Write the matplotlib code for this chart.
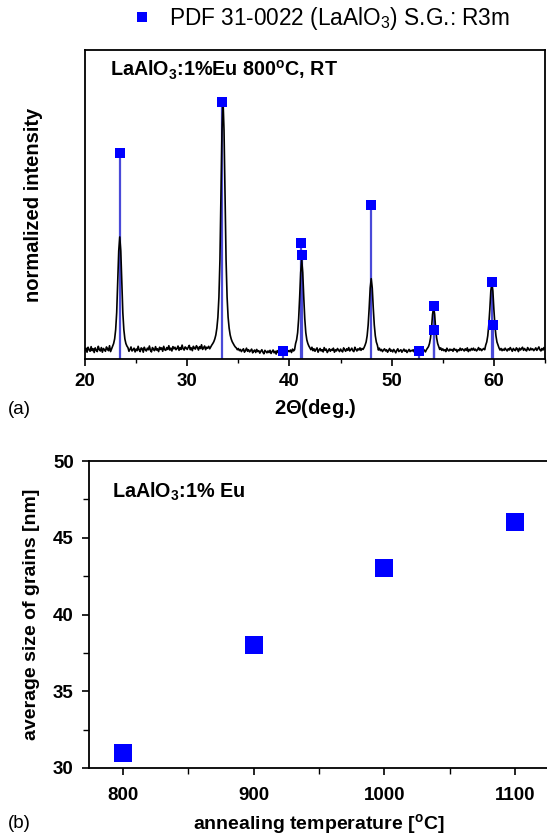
import numpy as np
import matplotlib
matplotlib.use("Agg")
import matplotlib.pyplot as plt
from matplotlib.ticker import MultipleLocator

plt.rcParams['font.family'] = ['Liberation Sans', 'DejaVu Sans']
plt.rcParams['mathtext.fontset'] = 'custom'
plt.rcParams['mathtext.rm'] = 'Liberation Sans'
plt.rcParams['mathtext.bf'] = 'Liberation Sans:bold'

# ---------------- data: panel (a) XRD ----------------
two_theta_start = 20.0
two_theta_step = 0.1
# measured trace (normalized intensity, 0..1000 of axis height), 0.1 deg steps from 20.0 to 65.0
xrd_intensity = [
    28, 35, 22, 38, 30, 25, 40, 27, 33, 21,       # 20
    36, 29, 24, 41, 31, 26, 37, 22, 34, 30,       # 21
    25, 39, 32, 27, 43, 24, 33, 42, 50, 65,       # 22
    95, 150, 250, 350, 395, 350, 250, 150, 95, 65,# 23
    50, 42, 37, 25, 31, 39, 26, 30, 35, 23,       # 24
    32, 27, 41, 29, 24, 36, 33, 22, 38, 30,       # 25
    26, 35, 30, 42, 28, 23, 37, 31, 27, 40,       # 26
    29, 33, 24, 38, 31, 36, 25, 41, 30, 28,       # 27
    37, 31, 43, 29, 35, 26, 40, 33, 38, 30,       # 28
    34, 42, 28, 37, 31, 45, 33, 29, 39, 36,       # 29
    31, 38, 44, 30, 36, 27, 41, 35, 32, 43,       # 30
    37, 29, 40, 34, 46, 31, 36, 42, 30, 38,       # 31
    35, 41, 33, 39, 45, 50, 56, 65, 78, 100,      # 32
    135, 200, 320, 520, 740, 840, 740, 520, 320, 200,  # 33 (peak 33.5)
    135, 100, 78, 65, 56, 50, 44, 39, 36, 30,     # 34
    34, 27, 31, 24, 29, 33, 22, 28, 35, 25,       # 35
    30, 23, 27, 32, 20, 26, 29, 21, 31, 24,       # 36
    27, 19, 25, 30, 22, 17, 28, 24, 20, 26,       # 37
    21, 28, 18, 24, 29, 20, 25, 16, 27, 22,       # 38
    19, 26, 23, 17, 28, 21, 25, 30, 22, 27,       # 39
    24, 29, 21, 32, 26, 30, 50, 62, 85, 130,      # 40
    200, 280, 320, 280, 200, 130, 85, 62, 50, 42, # 41
    36, 30, 38, 27, 33, 25, 31, 36, 22, 29,       # 42
    34, 26, 30, 23, 37, 28, 32, 21, 27, 33,       # 43
    25, 31, 28, 35, 22, 30, 26, 34, 29, 24,       # 44
    32, 27, 23, 36, 30, 25, 33, 28, 37, 26,       # 45
    30, 35, 27, 24, 38, 31, 26, 33, 29, 36,       # 46
    28, 34, 31, 37, 45, 55, 75, 110, 165, 230,    # 47
    260, 230, 165, 110, 75, 55, 45, 29, 35, 27,   # 48
    31, 24, 29, 33, 26, 30, 22, 28, 34, 25,       # 49
    29, 23, 31, 26, 20, 28, 33, 24, 27, 30,       # 50
    22, 27, 32, 25, 29, 21, 26, 31, 24, 28,       # 51
    26, 30, 23, 28, 19, 27, 24, 31, 22, 29,       # 52
    25, 32, 28, 23, 30, 35, 40, 50, 68, 100,      # 53
    145, 165, 145, 100, 68, 50, 40, 31, 36, 28,   # 54
    33, 27, 30, 24, 35, 29, 26, 32, 28, 31,       # 55
    25, 34, 29, 31, 23, 30, 27, 35, 28, 33,       # 56
    30, 26, 33, 28, 36, 24, 31, 27, 34, 29,       # 57
    35, 28, 32, 26, 30, 37, 29, 33, 27, 31,       # 58
    34, 30, 45, 55, 75, 110, 160, 220, 245, 220,  # 59
    160, 110, 75, 55, 45, 36, 29, 34, 27, 32,     # 60
    28, 35, 30, 26, 33, 29, 37, 31, 25, 34,       # 61
    30, 27, 36, 32, 24, 35, 29, 33, 38, 28,       # 62
    34, 29, 26, 37, 31, 28, 35, 30, 33, 27,       # 63
    31, 36, 28, 33, 39, 30, 26, 34, 29, 37,       # 64
    32,                                           # 65.0
]

# PDF 31-0022 reference lines
pdf_positions = [23.45, 33.45, 39.4, 41.15, 41.25, 47.95, 52.7, 54.1, 54.15, 59.85, 59.95]
pdf_heights = [667, 832, 26, 375, 337, 500, 26, 170, 94, 250, 110]

# ---------------- data: panel (b) grain size ----------------
anneal_temp = [800, 900, 1000, 1100]
grain_size = [31, 38, 43, 46]

x_ticks_a = [20, 30, 40, 50, 60]
x_ticks_b = [800, 900, 1000, 1100]
y_ticks_b = [30, 35, 40, 45, 50]

W, H = 547, 840
fig = plt.figure(figsize=(W / 100, H / 100), dpi=100)

# ---------------- panel (a) ----------------
axa = fig.add_axes([85 / W, (H - 359) / H, (545 - 85) / W, (359 - 50) / H])
tt = two_theta_start + two_theta_step * np.arange(len(xrd_intensity))
blue_line = '#4a4ad8'
axa.vlines(pdf_positions, 0, pdf_heights, colors=blue_line, linewidth=1.6, zorder=2)
axa.plot(tt, xrd_intensity, color='black', linewidth=1.2, zorder=3)
axa.plot(pdf_positions, pdf_heights, linestyle='none', marker='s', markersize=6.5,
         color='#0000ff', markeredgewidth=0, zorder=4,
         label=r'PDF 31-0022 (LaAlO$_3$) S.G.: R3m')
axa.set_xlim(20, 65)
axa.set_ylim(0, 1000)
axa.set_xticks(x_ticks_a)
axa.xaxis.set_minor_locator(MultipleLocator(5))
axa.set_yticks([])
axa.tick_params(axis='x', which='major', direction='out', length=5, width=1.2, labelsize=13.5, pad=5)
axa.tick_params(axis='x', which='minor', direction='out', length=3, width=1.0)
for lab in axa.get_xticklabels():
    lab.set_fontweight('bold')
for s in axa.spines.values():
    s.set_linewidth(1.3)
axa.set_xlabel(r'2$\mathbf{\Theta}$(deg.)', fontsize=14.5, fontweight='bold', labelpad=5)
axa.set_ylabel('normalized intensity', fontsize=14.5, fontweight='bold', labelpad=30)
axa.text(0.055, 0.935, r'LaAlO$_\mathbf{3}$:1%Eu 800$^\mathbf{o}$C, RT', transform=axa.transAxes,
         fontsize=14.2, fontweight='bold', va='center', ha='left')
fig.legend(loc='center', bbox_to_anchor=(0.585, 1 - 18 / H), frameon=False,
           fontsize=16.3, handletextpad=0.7, handlelength=1.0, borderaxespad=0, markerscale=1.1)
fig.text(8 / W, 1 - 409 / H, '(a)', fontsize=13.5, va='center', ha='left')

# ---------------- panel (b) ----------------
axb = fig.add_axes([89 / W, (H - 768) / H, (549 - 89) / W, (768 - 461) / H])
axb.plot(anneal_temp, grain_size, linestyle='none', marker='s', markersize=12.5,
         color='#0000ff', markeredgewidth=0)
axb.set_xlim(774, 1126)
axb.set_ylim(30, 50)
axb.set_xticks(x_ticks_b)
axb.set_yticks(y_ticks_b)
axb.xaxis.set_minor_locator(MultipleLocator(50))
axb.yaxis.set_minor_locator(MultipleLocator(2.5))
axb.tick_params(which='major', direction='out', length=5, width=1.2, labelsize=13.5, pad=6)
axb.tick_params(axis='x', which='major', pad=9)
axb.tick_params(which='minor', direction='out', length=4, width=1.0)
for lab in axb.get_xticklabels() + axb.get_yticklabels():
    lab.set_fontweight('bold')
for s in axb.spines.values():
    s.set_linewidth(1.3)
axb.set_xlabel(r'annealing temperature [$^\mathbf{o}$C]', fontsize=14, fontweight='bold', labelpad=6)
axb.set_ylabel('average size of grains [nm]', fontsize=14, fontweight='bold', labelpad=9)
axb.text(0.05, 0.9, r'LaAlO$_\mathbf{3}$:1% Eu', transform=axb.transAxes,
         fontsize=14.2, fontweight='bold', va='center', ha='left')
fig.text(8 / W, 1 - 823 / H, '(b)', fontsize=13.5, va='center', ha='left')

fig.savefig('out.png', dpi=100)
